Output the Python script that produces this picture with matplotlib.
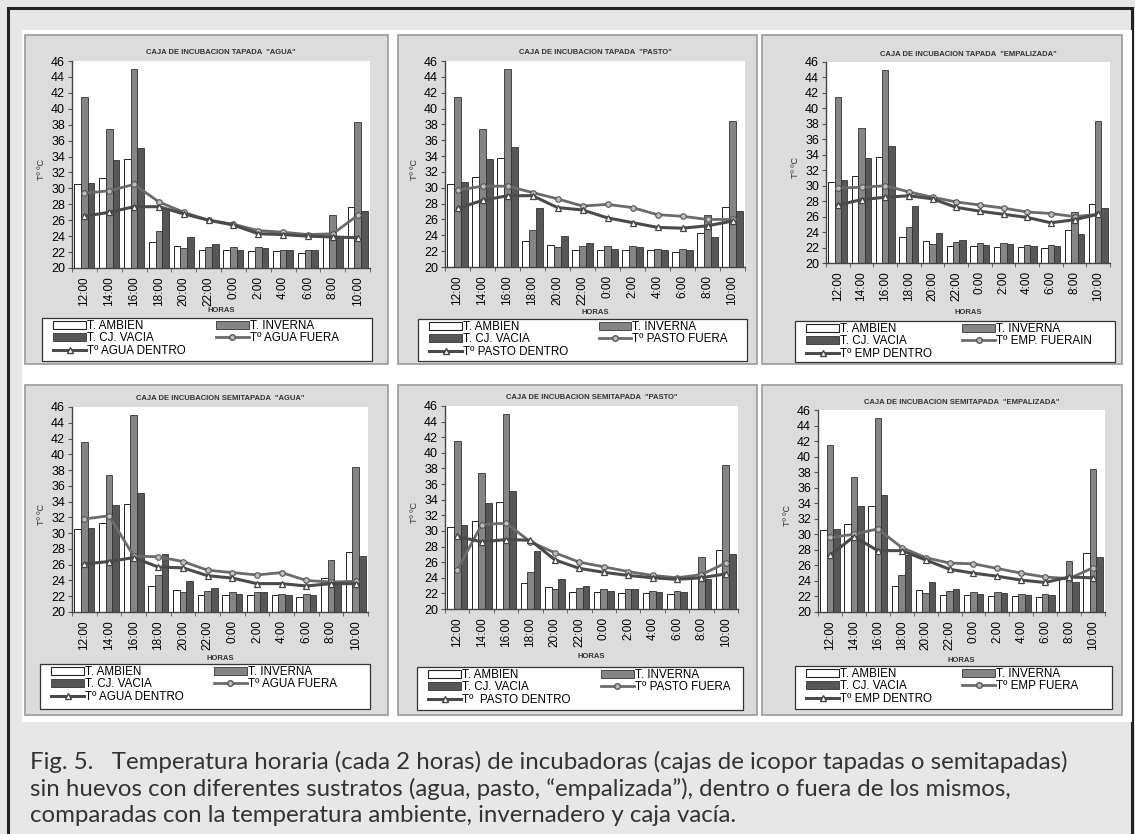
import matplotlib
matplotlib.use('Agg')
import matplotlib.pyplot as plt
from matplotlib.patches import Rectangle
from matplotlib.lines import Line2D
import numpy as np

plt.rcParams['font.family'] = ['Liberation Sans', 'DejaVu Sans']

W, H = 1135, 834

# Hours on the x axis
horas = ['12:00', '14:00', '16:00', '18:00', '20:00', '22:00',
         '0:00', '2:00', '4:00', '6:00', '8:00', '10:00']

# Bars (same in every panel)
t_ambien = [30.5, 31.3, 33.7, 23.3, 22.8, 22.2, 22.2, 22.1, 22.1, 21.9, 24.3, 27.6]
t_inverna = [41.5, 37.4, 45.0, 24.7, 22.5, 22.7, 22.6, 22.6, 22.3, 22.3, 26.6, 38.4]
t_vacia = [30.7, 33.6, 35.1, 27.4, 23.9, 23.0, 22.3, 22.5, 22.2, 22.2, 23.8, 27.1]

# Lines, covered boxes
tap_agua_fuera = [29.4, 29.7, 30.5, 28.3, 27.0, 26.0, 25.5, 24.7, 24.5, 24.2, 24.3, 26.6]
tap_agua_dentro = [26.5, 27.0, 27.7, 27.7, 26.8, 26.0, 25.4, 24.3, 24.2, 24.0, 23.9, 23.8]
tap_pasto_fuera = [29.7, 30.2, 30.2, 29.4, 28.6, 27.7, 27.9, 27.5, 26.6, 26.4, 26.0, 26.0]
tap_pasto_dentro = [27.4, 28.4, 29.0, 29.0, 27.5, 27.2, 26.2, 25.6, 25.0, 24.9, 25.2, 25.8]
tap_emp_fuera = [29.7, 29.8, 30.0, 29.2, 28.5, 27.9, 27.5, 27.1, 26.6, 26.4, 26.0, 26.3]
tap_emp_dentro = [27.5, 28.2, 28.5, 28.7, 28.3, 27.2, 26.7, 26.3, 25.9, 25.2, 25.6, 26.3]

# Lines, half covered boxes
semi_agua_fuera = [31.8, 32.2, 27.1, 27.0, 26.4, 25.3, 25.0, 24.7, 25.0, 24.0, 23.8, 23.9]
semi_agua_dentro = [26.1, 26.4, 26.9, 25.7, 25.6, 24.6, 24.3, 23.6, 23.6, 23.3, 23.6, 23.6]
semi_pasto_fuera = [25.0, 30.8, 31.0, 28.6, 27.2, 26.0, 25.4, 24.8, 24.3, 24.0, 24.4, 25.9]
semi_pasto_dentro = [29.3, 28.6, 28.9, 28.8, 26.3, 25.2, 24.7, 24.3, 24.0, 23.8, 24.0, 24.5]
semi_emp_fuera = [29.6, 30.0, 30.7, 28.3, 27.0, 26.3, 26.2, 25.6, 25.0, 24.5, 24.3, 25.7]
semi_emp_dentro = [27.3, 29.7, 27.9, 27.9, 26.7, 25.5, 25.0, 24.6, 24.1, 23.8, 24.5, 24.4]

titulos = ['CAJA DE INCUBACION TAPADA  "AGUA"',
           'CAJA DE INCUBACION TAPADA  "PASTO"',
           'CAJA DE INCUBACION TAPADA  "EMPALIZADA"',
           'CAJA DE INCUBACION SEMITAPADA  "AGUA"',
           'CAJA DE INCUBACION SEMITAPADA  "PASTO"',
           'CAJA DE INCUBACION SEMITAPADA  "EMPALIZADA"']
nombres_fuera = ['Tº AGUA FUERA', 'Tº PASTO FUERA', 'Tº EMP. FUERAIN',
                 'Tº AGUA FUERA', 'Tº PASTO FUERA', 'Tº EMP FUERA']
nombres_dentro = ['Tº AGUA DENTRO', 'Tº PASTO DENTRO', 'Tº EMP DENTRO',
                  'Tº AGUA DENTRO', 'Tº  PASTO DENTRO', 'Tº EMP DENTRO']
fuera = [tap_agua_fuera, tap_pasto_fuera, tap_emp_fuera,
         semi_agua_fuera, semi_pasto_fuera, semi_emp_fuera]
dentro = [tap_agua_dentro, tap_pasto_dentro, tap_emp_dentro,
          semi_agua_dentro, semi_pasto_dentro, semi_emp_dentro]

# layout in pixels: panel box, axes box, legend box, horas y
panel_box = [(25, 35, 388, 364), (398, 35, 757, 364), (762, 35, 1122, 364),
             (25, 385, 388, 715), (398, 385, 757, 715), (762, 385, 1122, 715)]
ax_box = [(72, 61, 370, 268), (445, 61, 745, 267), (826, 62, 1110, 263),
          (72, 407, 368, 612), (445, 406, 738, 609), (818, 410, 1105, 612)]
leg_box = [(42, 318, 372, 361), (418, 319, 747, 361), (795, 321, 1115, 362),
           (40, 664, 370, 709), (417, 667, 743, 710), (795, 666, 1112, 709)]
horas_y = [310, 313, 312, 658, 657, 660]

c_inverna = '#858585'
c_vacia = '#575757'


def fx(px):
    return px / W


def fy(py):
    return 1 - py / H


fig = plt.figure(figsize=(W / 100, H / 100), dpi=100)
fig.patch.set_facecolor('#e7e7e7')

# outer frame and white area
fig.add_artist(Rectangle((fx(8), fy(840)), fx(1124), 832 / H, transform=fig.transFigure,
                         fill=False, edgecolor='#222222', lw=2.2, zorder=-10))
fig.add_artist(Rectangle((fx(22), fy(722)), fx(1110), 692 / H, transform=fig.transFigure,
                         facecolor='white', edgecolor='none', zorder=-10))

x = np.arange(len(horas))
w = 0.27

for i in range(6):
    px0, py0, px1, py1 = panel_box[i]
    fig.add_artist(Rectangle((fx(px0), fy(py1)), fx(px1 - px0), (py1 - py0) / H,
                             transform=fig.transFigure, facecolor='#dcdcdc',
                             edgecolor='#9a9a9a', lw=1.2, zorder=-5))
    l, t, r, b = ax_box[i]
    ax = fig.add_axes([fx(l), fy(b), fx(r - l), (b - t) / H])
    ax.set_facecolor('white')

    ax.bar(x - w, t_ambien, w, color='white', edgecolor='#222222', lw=0.7, zorder=2)
    ax.bar(x, t_inverna, w, color=c_inverna, edgecolor='#333333', lw=0.6, zorder=2)
    ax.bar(x + w, t_vacia, w, color=c_vacia, edgecolor='#333333', lw=0.6, zorder=2)
    ax.plot(x, fuera[i], color='#6b6b6b', lw=2, marker='o', ms=4,
            mfc='#bdbdbd', mec='#555555', mew=0.8, zorder=4)
    ax.plot(x, dentro[i], color='#4a4a4a', lw=2.2, marker='^', ms=5,
            mfc='white', mec='#444444', mew=0.9, zorder=4)

    ax.set_ylim(20, 46)
    ax.set_xlim(-0.5, len(horas) - 0.5)
    ax.set_yticks(np.arange(20, 47, 2))
    ax.set_xticks(x)
    ax.set_xticklabels(horas, rotation=90, fontsize=8.5)
    ax.set_xticks(np.arange(-0.5, len(horas)), minor=True)
    ax.tick_params(axis='x', which='major', length=0, pad=6)
    ax.tick_params(axis='x', which='minor', length=3, color='#555555')
    ax.tick_params(axis='y', labelsize=9, length=3, color='#555555', pad=2)
    for s in ['top', 'right']:
        ax.spines[s].set_visible(False)
    for s in ['left', 'bottom']:
        ax.spines[s].set_color('#444444')
        ax.spines[s].set_linewidth(1)

    fig.text(fx((l + r) / 2), fy(t - 8), titulos[i], fontsize=5.5, fontweight='bold',
             ha='center', va='center', color='#333333')
    fig.text(fx((l + r) / 2), fy(horas_y[i]), 'HORAS', fontsize=5.5, fontweight='bold',
             ha='center', va='center', color='#333333')
    fig.text(fx(l - 31), fy((t + b) / 2 + 5), 'Tº ºC', fontsize=6.5, rotation=90,
             ha='center', va='center', color='#333333')

    # legend box
    lx0, ly0, lx1, ly1 = leg_box[i]
    fig.add_artist(Rectangle((fx(lx0), fy(ly1)), fx(lx1 - lx0), (ly1 - ly0) / H,
                             transform=fig.transFigure, facecolor='white',
                             edgecolor='#333333', lw=0.9, zorder=-4))
    handles = [
        Rectangle((0, 0), 1, 1, facecolor='white', edgecolor='#222222', lw=0.8),
        Rectangle((0, 0), 1, 1, facecolor=c_vacia, edgecolor='#333333', lw=0.6),
        Line2D([], [], color='#4a4a4a', lw=2.2, marker='^', ms=5, mfc='white', mec='#444444'),
        Rectangle((0, 0), 1, 1, facecolor=c_inverna, edgecolor='#333333', lw=0.6),
        Line2D([], [], color='#6b6b6b', lw=2, marker='o', ms=4, mfc='#bdbdbd', mec='#555555'),
    ]
    labels = ['T. AMBIEN', 'T. CJ. VACIA', nombres_dentro[i], 'T. INVERNA', nombres_fuera[i]]
    fig.legend(handles, labels, ncol=2, loc='upper left',
               bbox_to_anchor=(fx(lx0 + 10), fy(ly0 + 1)),
               fontsize=8.4, frameon=False, borderpad=0.1, labelspacing=0.02,
               handlelength=2.8, handleheight=0.7, handletextpad=0.1,
               columnspacing=2.6, borderaxespad=0)

caption = ['Fig. 5.   Temperatura horaria (cada 2 horas) de incubadoras (cajas de icopor tapadas o semitapadas)',
           'sin huevos con diferentes sustratos (agua, pasto, \u201cempalizada\u201d), dentro o fuera de los mismos,',
           'comparadas con la temperatura ambiente, invernadero y caja vac\u00eda.']
for k, line in enumerate(caption):
    fig.text(fx(30), fy(762 + 26.5 * k), line, fontsize=17.3, family='Lato',
             ha='left', va='center', color='#333333')

fig.savefig('out.png', dpi=100, facecolor=fig.get_facecolor())
